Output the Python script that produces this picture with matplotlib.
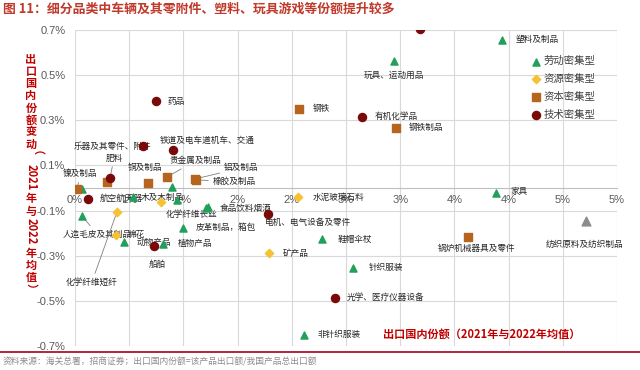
import matplotlib
matplotlib.use('Agg')
import matplotlib.pyplot as plt
import numpy as np

plt.rcParams['font.family'] = ['Noto Sans CJK SC', 'DejaVu Sans']

# ---------------- data (values in %) ----------------
labor_names = ['塑料及制品', '玩具、运动用品', '家具', '非针织服装', '针织服装', '鞋帽伞杖',
               '皮革制品，箱包', '食品饮料烟酒', '化学纤维长丝', '动物产品', '植物产品',
               '人造毛皮及其制品', '', '', '', '']
labor_x = [3.94, 2.94, 3.88, 2.11, 2.56, 2.28, 1.00, 1.21, 1.23, 0.45, 0.81, 0.065, 0.065, 0.895, 0.94, 0.535]
labor_y = [0.656, 0.563, -0.022, -0.651, -0.354, -0.226, -0.177, -0.089, -0.085, -0.239, -0.248,
           -0.124, -0.004, 0.004, -0.053, -0.040]

resource_names = ['水泥玻璃石料', '矿产品', '木及木制品', '化学纤维短纤', '棉花']
resource_x = [2.06, 1.79, 0.79, 0.387, 0.378]
resource_y = [-0.040, -0.288, -0.062, -0.106, -0.208]

capital_names = ['钢铁', '钢铁制品', '锅炉机械器具及零件', '镍及制品', '', '铜及制品',
                 '贵金属及制品', '铝及制品', '橡胶及制品']
capital_x = [2.07, 2.96, 3.63, 0.02, 0.295, 0.673, 0.85, 1.107, 1.12]
capital_y = [0.350, 0.266, -0.217, -0.004, 0.027, 0.022, 0.049, 0.040, 0.036]

tech_names = ['车辆及其零部件', '药品', '有机化学品', '乐器及其零件、附件', '铁道及电车道机车、交通',
              '肥料', '航空航天器', '船舶', '电机、电气设备及零件', '光学、医疗仪器设备']
tech_x = [3.18, 0.747, 2.65, 0.627, 0.904, 0.323, 0.12, 0.729, 1.78, 2.40]
tech_y = [0.704, 0.385, 0.315, 0.186, 0.168, 0.044, -0.049, -0.257, -0.115, -0.487]

other_names = ['纺织原料及纺织制品']
other_x = [4.71]
other_y = [-0.146]

legend_labels = ['劳动密集型', '资源密集型', '资本密集型', '技术密集型']
x_ticks = [0, 0.5, 1.0, 1.5, 2.0, 2.5, 3.0, 3.5, 4.0, 4.5, 5.0]
x_tick_labels = ['0%', '1%', '1%', '2%', '2%', '3%', '3%', '4%', '4%', '5%', '5%']
y_ticks = [-0.7, -0.5, -0.3, -0.1, 0.1, 0.3, 0.5, 0.7]
y_tick_labels = ['-0.7%', '-0.5%', '-0.3%', '-0.1%', '0.1%', '0.3%', '0.5%', '0.7%']

title = '图 11：细分品类中车辆及其零附件、塑料、玩具游戏等份额提升较多'
source = '资料来源：海关总署，招商证券；出口国内份额=该产品出口额/我国产品总出口额'
xlabel = '出口国内份额（2021年与2022年均值）'

# label placement (offset in pixels, ha, leader line)
label_style = {
    '车辆及其零部件': (-13, -15, 'center', False),
    '塑料及制品': (14, 0, 'left', False),
    '玩具、运动用品': (0, -14, 'center', False),
    '药品': (12, 0, 'left', False),
    '钢铁': (13, 0, 'left', False),
    '有机化学品': (12, 0, 'left', False),
    '钢铁制品': (13, 0, 'left', False),
    '乐器及其零件、附件': (-30, 0, 'center', False),
    '铁道及电车道机车、交通': (-13, 10, 'left', False),
    '肥料': (4, 20, 'center', True),
    '镍及制品': (3, 15, 'center', True),
    '铜及制品': (-3, 16, 'center', False),
    '贵金属及制品': (28, 16, 'center', True),
    '铝及制品': (46, 11, 'center', True),
    '橡胶及制品': (16, -2, 'left', True),
    '航空航天器': (12, 1, 'left', False),
    '木及木制品': (-20, 5, 'left', False),
    '化学纤维短纤': (-25, -70, 'center', True),
    '棉花': (12, 0, 'left', False),
    '化学纤维长丝': (-17, -7, 'center', False),
    '食品饮料烟酒': (14, 0, 'left', False),
    '皮革制品，箱包': (12, 0, 'left', False),
    '人造毛皮及其制品': (15, -18, 'center', True),
    '动物产品': (13, 0, 'left', False),
    '植物产品': (15, 0, 'left', False),
    '船舶': (3, -18, 'center', False),
    '水泥玻璃石料': (14, 0, 'left', False),
    '电机、电气设备及零件': (-3, -9, 'left', False),
    '矿产品': (14, 0, 'left', False),
    '鞋帽伞杖': (15, 0, 'left', False),
    '针织服装': (16, 0, 'left', False),
    '光学、医疗仪器设备': (12, 0, 'left', False),
    '非针织服装': (14, 0, 'left', False),
    '家具': (15, 1, 'left', False),
    '锅炉机械器具及零件': (8, -12, 'center', False),
    '纺织原料及纺织制品': (-1, -23, 'center', False),
}

# ---------------- figure ----------------
W, H = 640, 370
fig = plt.figure(figsize=(W / 100, H / 100), dpi=100)
fig.patch.set_facecolor('white')
ax = fig.add_axes([75 / W, 1 - 346 / H, (617 - 75) / W, (346 - 30) / H])

grid_c = '#D9D9D9'
ax.set_xlim(0, 5)
ax.set_ylim(-0.7, 0.7)
ax.set_xticks(x_ticks)
ax.set_xticklabels(x_tick_labels)
ax.set_yticks(y_ticks)
ax.set_yticklabels(y_tick_labels)
ax.grid(True, color=grid_c, lw=0.8, zorder=0)
ax.set_axisbelow(True)
for s in ['top', 'right', 'left']:
    ax.spines[s].set_visible(False)
ax.spines['bottom'].set_position(('data', 0))
ax.spines['bottom'].set_color('#BFBFBF')
ax.spines['bottom'].set_linewidth(0.8)
ax.tick_params(axis='both', length=0, colors='#595959', labelsize=8)
ax.tick_params(axis='x', pad=5)
ax.tick_params(axis='y', pad=7)
for t in ax.get_xticklabels() + ax.get_yticklabels():
    t.set_family(['Liberation Sans', 'DejaVu Sans'])

c_labor = '#22A05B'
c_res = '#F4C232'
c_cap = '#B5651D'
c_tech = '#7A0A0A'
c_other = '#8C8C8C'

ax.scatter(labor_x, labor_y, marker='^', s=26, color=c_labor, zorder=4, label=legend_labels[0])
ax.scatter(resource_x, resource_y, marker='D', s=18, color=c_res, zorder=4, label=legend_labels[1])
ax.scatter(capital_x, capital_y, marker='s', s=34, color=c_cap, zorder=4, label=legend_labels[2])
ax.scatter(tech_x, tech_y, marker='o', s=34, color=c_tech, zorder=4, label=legend_labels[3])
ax.scatter(other_x, other_y, marker='^', s=40, color=c_other, zorder=4)

def put_labels(names, xs, ys):
    for n, x, y in zip(names, xs, ys):
        if not n:
            continue
        dx, dy, ha, leader = label_style.get(n, (10, 0, 'left', False))
        kw = dict(xy=(x, y), xytext=(dx, dy), textcoords='offset pixels',
                  ha=ha, va='center', fontsize=6.2, color='#262626', zorder=3)
        if leader:
            kw['arrowprops'] = dict(arrowstyle='-', color='#808080', lw=0.6,
                                    shrinkA=1, shrinkB=2)
        ax.annotate(n, **kw)

put_labels(labor_names, labor_x, labor_y)
put_labels(resource_names, resource_x, resource_y)
put_labels(capital_names, capital_x, capital_y)
put_labels(tech_names, tech_x, tech_y)
put_labels(other_names, other_x, other_y)

leg = ax.legend(loc='upper left', bbox_to_anchor=((527 - 75) / 542, 1 - (52 - 30) / 316),
                frameon=False, fontsize=7.5, handletextpad=0.2, labelspacing=0.75,
                borderaxespad=0, handlelength=1.0, labelcolor='#404040')

# x-axis title inside the plot
ax.text((383 - 75) / 542, 1 - (334 - 30) / 316, xlabel, transform=ax.transAxes,
        ha='left', va='center', fontsize=8, fontweight='bold', color='#C00000')

# vertical y-axis title (upright Chinese characters, rotated digits)
ylab_c = '#C00000'
ypieces = [('出', 60, 0), ('口', 72, 0), ('国', 84, 0), ('内', 96, 0), ('份', 108, 0),
           ('额', 120, 0), ('变', 132, 0), ('动', 144, 0), ('（', 156, -90), ('2021', 177, -90),
           ('年', 199, 0), ('与', 211, 0), ('2022', 231, -90), ('年', 253, 0), ('均', 265, 0),
           ('值', 277, 0), ('）', 289, -90)]
for s, yp, rot in ypieces:
    fig.text(31 / W, 1 - yp / H, s, rotation=rot, ha='center', va='center',
             fontsize=8, fontweight='bold', color=ylab_c)

# title, rule, source
fig.text(3 / W, 1 - 9 / H, title, ha='left', va='center', fontsize=9.3,
         fontweight='bold', color='#C0392B')
fig.add_artist(plt.Line2D([0, 1], [1 - 352 / H, 1 - 352 / H], color='#A50021', lw=1.2))
fig.text(3 / W, 1 - 362 / H, source, ha='left', va='center', fontsize=6.3, color='#8C8C8C')

fig.savefig('out.png', dpi=100)
